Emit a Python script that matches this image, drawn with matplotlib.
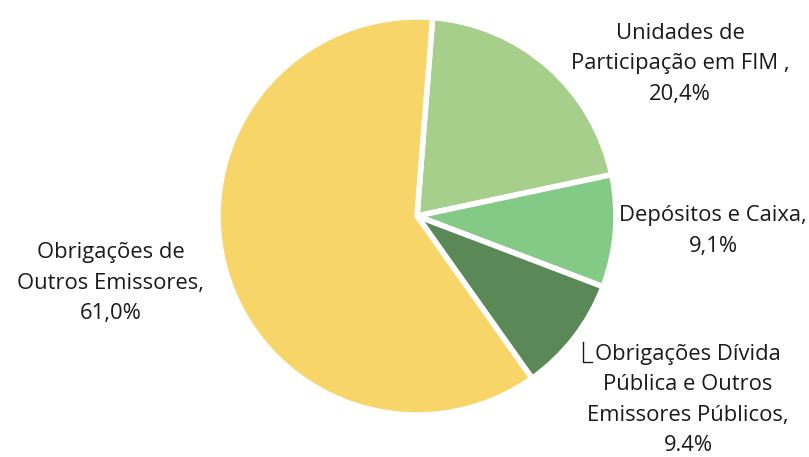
import matplotlib.pyplot as plt

# composition of the portfolio (%)
labels = ['Unidades de\nParticipação em FIM ,\n20,4%',
          'Depósitos e Caixa,\n9,1%',
          'Obrigações Dívida\nPública e Outros\nEmissores Públicos,\n9.4%',
          'Obrigações de\nOutros Emissores,\n61,0%']
shares = [20.4, 9.1, 9.4, 61.0]
colors = ['#A6CF8C', '#83CA86', '#5A8856', '#F8D568']
explode = [0.025, 0.025, 0.025, 0.0]

# label anchor points (pixels, from the top-left corner)
label_x = [680, 713, 688, 111]
label_y = [64, 231, 400, 283]

W, H = 809, 457
plt.rcParams['font.family'] = ['Open Sans', 'DejaVu Sans']

fig = plt.figure(figsize=(W / 100, H / 100), dpi=100)
ax = fig.add_axes([0, 0, 1, 1])

ax.pie(shares, colors=colors, explode=explode, startangle=85.5,
       counterclock=False, center=(417, H - 216), radius=199,
       wedgeprops=dict(edgecolor='white', linewidth=4))

# pie() resets the limits, so put the pixel frame back afterwards
ax.set_xlim(0, W)
ax.set_ylim(0, H)
ax.set_aspect('equal')
ax.axis('off')

for lab, x, y in zip(labels, label_x, label_y):
    ax.text(x, H - y, lab, ha='center', va='center', fontsize=15.8,
            color='#1a1a1a', linespacing=1.57)

# small leader line in front of the public debt label
lx, ly = 583, 362
ax.plot([lx, lx, lx + 9], [H - ly + 20, H - ly, H - ly], color='#1a1a1a', lw=1)

fig.savefig('out.png', dpi=100, facecolor='white')
